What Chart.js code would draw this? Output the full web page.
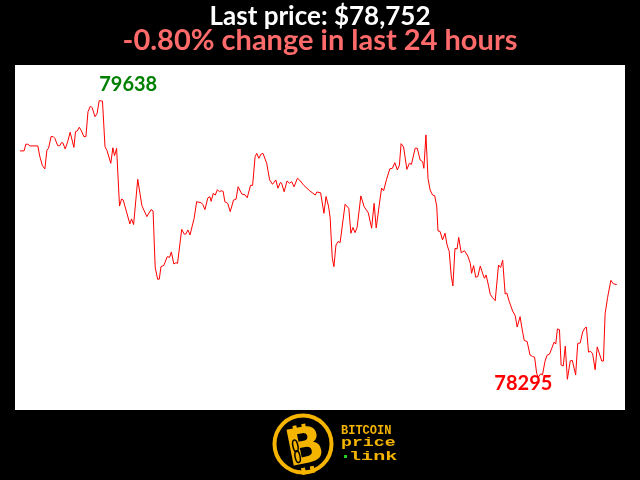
<!DOCTYPE html>
<html>
<head>
<meta charset="utf-8">
<script src="https://cdn.jsdelivr.net/npm/chart.js@4.4.1/dist/chart.umd.min.js"></script>
<style>
    html, body { margin: 0; padding: 0; background: #000; }
    canvas { display: block; }
</style>
</head>
<body>
<canvas id="priceChart" width="640" height="480"></canvas>
<script>
const titleText = "Last price: $78,752";
const changeText = "-0.80% change in last 24 hours";

// minutes since start of the 24h window
const minutes = [
    0, 10, 14, 19, 24, 43, 48, 54, 60, 65, 69, 75, 80, 84, 91, 96, 100, 104, 109, 115,
    121, 130, 134, 138, 143, 148, 154, 159, 164, 170, 174, 181, 186, 191, 199, 205, 210, 219, 224, 228,
    233, 240, 245, 249, 265, 269, 274, 284, 294, 306, 316, 321, 326, 332, 336, 340, 347, 355, 361, 365,
    371, 376, 380, 390, 396, 400, 405, 410, 420, 426, 437, 441, 446, 453, 458, 461, 466, 471, 476, 481,
    485, 490, 494, 501, 507, 515, 521, 526, 535, 543, 548, 556, 561, 567, 571, 576, 581, 586, 595, 602,
    609, 617, 622, 628, 631, 637, 644, 650, 655, 661, 669, 674, 685, 699, 709, 712, 716, 725, 733, 738,
    744, 748, 753, 757, 762, 767, 772, 784, 793, 798, 803, 808, 813, 822, 830, 840, 848, 854, 859, 868,
    872, 877, 884, 892, 898, 904, 910, 915, 919, 925, 933, 939, 944, 953, 958, 965, 971, 974, 979, 984,
    989, 995, 1000, 1005, 1008, 1013, 1019, 1025, 1030, 1035, 1040, 1044, 1049, 1054, 1058, 1064, 1072, 1080, 1086, 1089,
    1094, 1099, 1104, 1110, 1116, 1120, 1124, 1130, 1134, 1139, 1146, 1154, 1159, 1164, 1170, 1174, 1180, 1188, 1194, 1199,
    1206, 1210, 1216, 1223, 1230, 1236, 1241, 1246, 1250, 1256, 1260, 1266, 1271, 1277, 1288, 1292, 1296, 1301, 1305, 1310,
    1315, 1320, 1327, 1332, 1340, 1345, 1351, 1357, 1363, 1366, 1371, 1376, 1381, 1387, 1392, 1403, 1407, 1411, 1417, 1425,
    1431, 1439
];

const prices = [
    79396, 79396, 79428, 79428, 79420, 79420, 79368, 79325, 79309, 79400, 79409, 79465, 79465, 79457, 79421, 79421, 79436, 79433, 79405, 79440,
    79486, 79413, 79489, 79492, 79510, 79493, 79465, 79465, 79585, 79612, 79604, 79561, 79577, 79638, 79636, 79416, 79397, 79336, 79411, 79373,
    79408, 79130, 79164, 79159, 79044, 79068, 79041, 79259, 79132, 79079, 79113, 79106, 78836, 78777, 78778, 78838, 78844, 78886, 78883, 78909,
    78851, 78857, 78854, 79018, 78995, 78995, 79015, 78991, 79071, 79151, 79146, 79137, 79113, 79169, 79175, 79153, 79191, 79183, 79209, 79199,
    79204, 79201, 79151, 79143, 79103, 79159, 79163, 79223, 79188, 79184, 79170, 79230, 79230, 79368, 79384, 79360, 79380, 79384, 79336, 79256,
    79235, 79256, 79216, 79244, 79240, 79199, 79251, 79240, 79248, 79223, 79264, 79256, 79229, 79203, 79188, 79183, 79198, 79194, 79095, 79176,
    79130, 79073, 78882, 78838, 78942, 78959, 78954, 79139, 79119, 78999, 79027, 79002, 79027, 79179, 79127, 79097, 79023, 79143, 79024, 79159,
    79217, 79204, 79259, 79310, 79312, 79339, 79304, 79327, 79431, 79415, 79307, 79336, 79331, 79409, 79409, 79352, 79344, 79312, 79473, 79263,
    79208, 79183, 79180, 79130, 79010, 79008, 78967, 78999, 78942, 78912, 78793, 78745, 78926, 78923, 78979, 78905, 78915, 78889, 78854, 78806,
    78843, 78787, 78790, 78841, 78803, 78782, 78798, 78745, 78705, 78690, 78674, 78846, 78834, 78869, 78706, 78711, 78669, 78624, 78603, 78547,
    78597, 78547, 78482, 78477, 78412, 78405, 78402, 78323, 78306, 78322, 78316, 78381, 78411, 78416, 78474, 78465, 78538, 78534, 78364, 78359,
    78455, 78295, 78384, 78386, 78316, 78468, 78470, 78524, 78544, 78546, 78426, 78430, 78418, 78341, 78451, 78383, 78383, 78611, 78689, 78772,
    78755, 78752
];

const gold = "#f5b400";

const points = minutes.map((m, i) => ({ x: m, y: prices[i] }));

// black page, white plot box
const backgroundPlugin = {
    id: "background",
    beforeDraw(chart) {
        const { ctx, chartArea } = chart;
        ctx.save();
        ctx.fillStyle = "#000";
        ctx.fillRect(0, 0, chart.width, chart.height);
        ctx.fillStyle = "#fff";
        ctx.fillRect(chartArea.left, chartArea.top, chartArea.right - chartArea.left, chartArea.bottom - chartArea.top);
        ctx.restore();
    }
};

// wide monospace word for the logo
function wideText(ctx, text, x, y, stretch) {
    ctx.save();
    ctx.translate(x, y);
    ctx.scale(stretch, 1);
    ctx.fillText(text, 0, 0);
    ctx.restore();
}

// high / low labels, header and logo
const decorPlugin = {
    id: "decor",
    afterDraw(chart) {
        const ctx = chart.ctx;
        const xs = chart.scales.x;
        const ys = chart.scales.y;

        const hi = prices.indexOf(Math.max(...prices));
        const lo = prices.indexOf(Math.min(...prices));

        ctx.save();
        ctx.font = "bold 20px Lato";
        ctx.textBaseline = "alphabetic";
        ctx.fillStyle = "#008000";
        ctx.textAlign = "left";
        ctx.fillText(String(prices[hi]), xs.getPixelForValue(minutes[hi]), ys.getPixelForValue(prices[hi]) - 10);
        ctx.fillStyle = "#ff0000";
        ctx.textAlign = "right";
        ctx.fillText(String(prices[lo]), xs.getPixelForValue(minutes[lo]) - 15, ys.getPixelForValue(prices[lo]) + 11);

        // header
        ctx.textAlign = "center";
        ctx.fillStyle = "#ffffff";
        ctx.font = "bold 26px Lato";
        ctx.fillText(titleText, 320, 25);
        ctx.fillStyle = "#ff6b6b";
        ctx.font = "bold 29px Lato";
        ctx.fillText(changeText, 320, 50);

        // logo
        ctx.strokeStyle = gold;
        ctx.lineWidth = 4;
        ctx.beginPath();
        ctx.arc(303, 444, 28.5, 0, Math.PI * 2);
        ctx.stroke();

        ctx.save();
        ctx.translate(305, 448);
        ctx.rotate(-0.2);
        ctx.fillStyle = gold;
        ctx.font = "bold 50px 'DejaVu Sans'";
        ctx.textAlign = "center";
        ctx.textBaseline = "middle";
        ctx.fillText("B", 0, 2);
        ctx.fillRect(-8, -24, 4, 7);
        ctx.fillRect(1, -24, 4, 7);
        ctx.fillRect(-8, 19, 4, 7);
        ctx.fillRect(1, 19, 4, 7);
        ctx.strokeStyle = "#000";
        ctx.lineWidth = 1.5;
        ctx.beginPath();
        ctx.ellipse(-9, -4, 2.5, 6, 0, 0, Math.PI * 2);
        ctx.stroke();
        ctx.beginPath();
        ctx.ellipse(-9, 7, 2.5, 6, 0, 0, Math.PI * 2);
        ctx.stroke();
        ctx.restore();

        ctx.fillStyle = gold;
        ctx.textAlign = "left";
        ctx.textBaseline = "alphabetic";
        ctx.font = "bold 12px 'Liberation Mono'";
        ctx.fillText("BITCOIN", 341, 434);
        ctx.font = "bold 13px 'Liberation Mono'";
        wideText(ctx, "price", 341, 446, 1.4);
        wideText(ctx, "link", 349, 460, 1.55);
        ctx.fillStyle = "#22cc22";
        ctx.fillRect(344, 455, 3, 3);
        ctx.restore();
    }
};

new Chart(document.getElementById("priceChart"), {
    type: "line",
    data: {
        datasets: [{
            data: points,
            borderColor: "#ff0000",
            borderWidth: 1,
            pointRadius: 0,
            tension: 0,
            fill: false
        }]
    },
    options: {
        responsive: false,
        animation: false,
        layout: { padding: { top: 65, left: 15, right: 15, bottom: 70 } },
        scales: {
            x: { type: "linear", min: -12, max: 1459, display: false },
            y: { min: 78147, max: 79810, display: false }
        },
        plugins: {
            legend: { display: false },
            tooltip: { enabled: false },
            title: { display: false }
        }
    },
    plugins: [backgroundPlugin, decorPlugin]
});
</script>
</body>
</html>
